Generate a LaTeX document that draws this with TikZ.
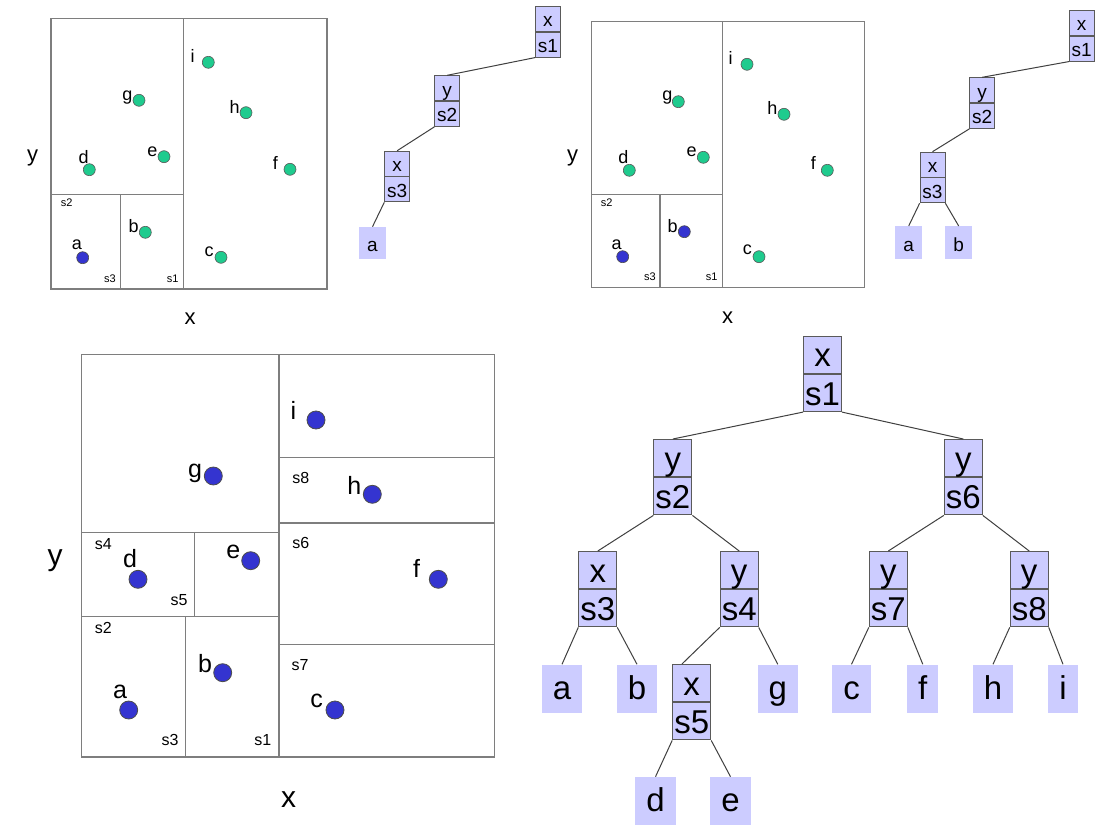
\documentclass[tikz,border=0pt]{standalone}
\usepackage{fontspec}
\setmainfont{Liberation Sans}
\usetikzlibrary{calc}

\definecolor{lav}{HTML}{CCCCFF}
\definecolor{boxgray}{HTML}{5A5A5A}
\definecolor{linegray}{HTML}{7E7E7E}
\definecolor{mint}{HTML}{1FCB8E}
\definecolor{dotblue}{HTML}{3434D0}

\tikzset{
  partbig/.style={draw=boxgray, fill=lav, line width=1pt, minimum width=38pt,
    inner xsep=0pt, inner ysep=0pt, text height=30.6pt, text depth=6.6pt,
    font=\fontsize{33}{36}\selectfont},
  partsmall/.style={draw=boxgray, fill=lav, line width=0.8pt, minimum width=25pt,
    inner xsep=0pt, inner ysep=0pt, text height=20.5pt, text depth=4.5pt,
    font=\fontsize{19}{22}\selectfont},
  leafbig/.style={fill=lav, inner xsep=11pt, inner ysep=0pt, text height=35pt,
    text depth=13.4pt, font=\fontsize{33}{36}\selectfont, anchor=north},
  leafsmall/.style={fill=lav, inner xsep=8.2pt, inner ysep=0pt, text height=25pt,
    text depth=7.6pt, font=\fontsize{19}{22}\selectfont, anchor=north},
  edge/.style={draw=black!75, line width=1pt},
  panel/.style={draw=linegray, line width=1.1pt},
  gdot/.style={circle, fill=mint, draw=black!65, line width=0.6pt, minimum size=12pt, inner sep=0pt},
  bdot/.style={circle, fill=dotblue, draw=black!70, line width=0.6pt, minimum size=12pt, inner sep=0pt},
  bigdot/.style={circle, fill=dotblue, draw=black!70, line width=0.8pt, minimum size=18pt, inner sep=0pt},
  ptlab/.style={inner sep=0pt, font=\fontsize{18}{20}\selectfont},
  splab/.style={inner sep=0pt, font=\fontsize{11}{13}\selectfont},
  axlab/.style={inner sep=0pt, font=\fontsize{22}{25}\selectfont},
  ptlabbig/.style={inner sep=0pt, font=\fontsize{25}{28}\selectfont},
  splabbig/.style={inner sep=0pt, font=\fontsize{16}{19}\selectfont},
  axlabbig/.style={inner sep=0pt, font=\fontsize{30}{33}\selectfont},
}

% a two-part tree node: split axis on top, split name below
\newcommand\kdnode[5]{%
  \node[#1, anchor=north] (#2u) at #3 {#4};
  \node[#1, anchor=north] (#2) at (#2u.south) {#5};}

\begin{document}
\begin{tikzpicture}[x=1pt, y=-1pt]
\useasboundingbox[fill=white] (0,0) rectangle (1100,834);

% ---------- first partition (only a separated) ----------
\draw[panel] (51,18.3) rectangle (327,289);
\draw[panel] (183.3,18.3) -- (183.3,289);
\draw[panel] (51,194.3) -- (183.3,194.3);
\draw[panel] (120.7,194.3) -- (120.7,289);
\foreach \n/\st/\dx/\dy/\lx/\ly in {
  i/gdot/208.3/62.3/192.7/56, g/gdot/139/100.3/127.3/97.3, h/gdot/246/112.7/234.7/106.7,
  e/gdot/164/156.7/152.3/151.3, d/gdot/89.3/169.7/83.7/157, f/gdot/290/169.3/275.3/163,
  b/gdot/145.3/232.3/133.7/226.3, a/bdot/82.7/257.7/77/245, c/gdot/221/257.3/209/251.7}{
  \node[\st] (p1d\n) at (\dx,\dy) {};
  \node[ptlab] (p1l\n) at (\lx,\ly) {\n};
}
\node[splab] (p1s2) at (66.7,202.7) {s2};
\node[splab] (p1s3) at (110,278.3) {s3};
\node[splab] (p1s1) at (172.7,278.3) {s1};
\node[axlab] (p1y) at (32.7,158) {y};
\node[axlab] (p1x) at (190,319) {x};

% first tree
\kdnode{partsmall}{A1}{(547.9,6)}{x}{s1}
\kdnode{partsmall}{A2}{(447.2,75.3)}{y}{s2}
\kdnode{partsmall}{A3}{(397.2,150.7)}{x}{s3}
\node[leafsmall] (Aa) at (372.5,226.7) {a};
\draw[edge] (A1.south west) -- (A2u.north);
\draw[edge] (A2.south west) -- (A3u.north);
\draw[edge] (A3.south west) -- (Aa.north);

% ---------- second partition (a and b separated) ----------
\draw[panel] (591.7,21.7) rectangle (864.3,287.3);
\draw[panel] (722.3,21.7) -- (722.3,287.3);
\draw[panel] (591.7,194.3) -- (722.3,194.3);
\draw[panel] (660,194.3) -- (660,287.3);
\foreach \n/\st/\dx/\dy/\lx/\ly in {
  i/gdot/747/64.3/730.7/58.3, g/gdot/678.3/101.7/667.3/97.3, h/gdot/784/114.3/772.3/107.7,
  e/gdot/703.3/157.3/691.7/151.7, d/gdot/629.3/170.3/623.3/157, f/gdot/827.3/170.3/813.3/163.3,
  b/bdot/684.3/231.7/672.7/226, a/bdot/622.7/256.7/616.7/245, c/gdot/759/256.7/747.3/250}{
  \node[\st] (p2d\n) at (\dx,\dy) {};
  \node[ptlab] (p2l\n) at (\lx,\ly) {\n};
}
\node[splab] (p2s2) at (606.7,202.7) {s2};
\node[splab] (p2s3) at (650,276.7) {s3};
\node[splab] (p2s1) at (711.7,276.7) {s1};
\node[axlab] (p2y) at (572.7,158) {y};
\node[axlab] (p2x) at (727.7,318) {x};

% second tree
\kdnode{partsmall}{B1}{(1081.7,10)}{x}{s1}
\kdnode{partsmall}{B2}{(982.2,77.3)}{y}{s2}
\kdnode{partsmall}{B3}{(932.5,151.7)}{x}{s3}
\node[leafsmall] (Ba) at (908.7,226) {a};
\node[leafsmall] (Bb) at (958.7,226) {b};
\draw[edge] (B1.south west) -- (B2u.north);
\draw[edge] (B2.south west) -- (B3u.north);
\draw[edge] (B3.south west) -- (Ba.north);
\draw[edge] (B3.south east) -- (Bb.north);

% ---------- full partition ----------
\draw[panel] (81.7,354.3) rectangle (494.3,757);
\draw[panel] (279,354.3) -- (279,757);
\draw[panel] (81.7,616.7) -- (279,616.7);
\draw[panel] (185.3,616.7) -- (185.3,757);
\draw[panel] (81.7,532.3) -- (279,532.3);
\draw[panel] (194.7,532.3) -- (194.7,616.7);
\draw[panel] (279,457.3) -- (494.3,457.3);
\draw[panel] (279,523) -- (494.3,523);
\draw[panel] (279,644.3) -- (494.3,644.3);
\foreach \n/\dx/\dy/\lx/\ly in {
  i/316/420/293.3/410.7, g/213.3/476/195/473.3, h/372.3/494.3/354.3/485.7,
  e/250.7/560.7/233.3/551.7, d/138/579.3/130/558.3, f/438.3/579.3/416.7/568.3,
  b/222.7/672.7/205/663.3, a/128.7/710/120/691.7, c/335/710/316.7/701}{
  \node[bigdot] (p3d\n) at (\dx,\dy) {};
  \node[ptlabbig] (p3l\n) at (\lx,\ly) {\n};
}
\node[splabbig] (p3s8) at (300.7,477.7) {s8};
\node[splabbig] (p3s6) at (300.7,543.3) {s6};
\node[splabbig] (p3s7) at (300,665) {s7};
\node[splabbig] (p3s4) at (103.3,544) {s4};
\node[splabbig] (p3s5) at (179,600) {s5};
\node[splabbig] (p3s2) at (103.3,628.3) {s2};
\node[splabbig] (p3s3) at (170,740) {s3};
\node[splabbig] (p3s1) at (262.7,740) {s1};
\node[axlabbig] (p3y) at (55,561) {y};
\node[axlabbig] (p3x) at (288.5,800) {x};

% full tree
\kdnode{partbig}{C1}{(822.5,335.7)}{x}{s1}
\kdnode{partbig}{C2}{(672.9,439)}{y}{s2}
\kdnode{partbig}{C6}{(963.3,439)}{y}{s6}
\kdnode{partbig}{C3}{(597.8,551)}{x}{s3}
\kdnode{partbig}{C4}{(739.2,551)}{y}{s4}
\kdnode{partbig}{C7}{(888.3,551)}{y}{s7}
\kdnode{partbig}{C8}{(1029.2,551)}{y}{s8}
\kdnode{partbig}{C5}{(691.7,664)}{x}{s5}
\node[leafbig] (Ca) at (562,664.3) {a};
\node[leafbig] (Cb) at (637,664.3) {b};
\node[leafbig] (Cg) at (777.8,664.3) {g};
\node[leafbig] (Cc) at (851.5,664.3) {c};
\node[leafbig] (Cf) at (922.8,664.3) {f};
\node[leafbig] (Ch) at (993,664.3) {h};
\node[leafbig] (Ci) at (1063,664.3) {i};
\node[leafbig] (Cd) at (655.5,776.7) {d};
\node[leafbig] (Ce) at (730.5,776.7) {e};

\draw[edge] (C1.south west) -- (C2u.north);
\draw[edge] (C1.south east) -- (C6u.north);
\draw[edge] (C2.south west) -- (C3u.north);
\draw[edge] (C2.south east) -- (C4u.north);
\draw[edge] (C6.south west) -- (C7u.north);
\draw[edge] (C6.south east) -- (C8u.north);
\draw[edge] (C3.south west) -- (Ca.north);
\draw[edge] (C3.south east) -- (Cb.north);
\draw[edge] (C4.south west) -- ($(C5u.north west)!0.25!(C5u.north east)$);
\draw[edge] (C4.south east) -- (Cg.north);
\draw[edge] (C7.south west) -- (Cc.north);
\draw[edge] (C7.south east) -- (Cf.north);
\draw[edge] (C8.south west) -- (Ch.north);
\draw[edge] (C8.south east) -- (Ci.north);
\draw[edge] (C5.south west) -- (Cd.north);
\draw[edge] (C5.south east) -- (Ce.north);
\end{tikzpicture}
\end{document}
